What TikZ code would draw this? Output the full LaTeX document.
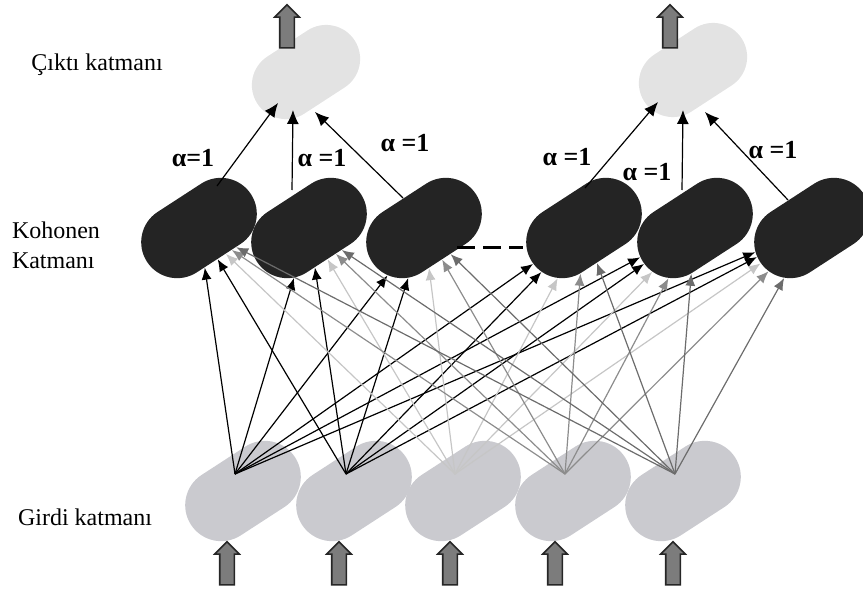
\documentclass[tikz,border=0pt]{standalone}
\usepackage{fontspec}
\setmainfont{Liberation Serif}
\usetikzlibrary{arrows.meta,shapes.misc,shapes.arrows,calc}
\definecolor{kncoal}  {HTML}{242424}
\definecolor{knfog}   {HTML}{CACACF}
\definecolor{knmist}  {HTML}{E3E3E3}
\definecolor{knpale}  {HTML}{C6C6C6}
\definecolor{knmid}   {HTML}{8C8C8C}
\definecolor{knsteel} {HTML}{6C6C6C}
\definecolor{knblock} {HTML}{7C7C7C}
\tikzset{
  knunit/.style={rounded rectangle, rotate=33, minimum width=62pt,
                 minimum height=36pt, inner sep=0pt},
  knkohonen/.style={knunit, fill=kncoal},
  kninput/.style={knunit, fill=knfog},
  knoutput/.style={knunit, fill=knmist, minimum width=58pt, minimum height=34pt},
  knedge/.style={-{Latex[length=6pt,width=5pt]}, line width=0.6pt},
  knoutedge/.style={-{Latex[length=7pt,width=6pt]}, line width=0.6pt},
  knblockarrow/.style={single arrow, rotate=90, draw=black!85, fill=knblock,
                 minimum height=21.5pt, minimum width=11.5pt,
                 single arrow head extend=2.5pt, inner xsep=0pt,
                 inner ysep=3.25pt, thick},
  knlabel/.style={font=\fontsize{12}{15}\selectfont},
  knalpha/.style={font=\fontsize{13}{15}\selectfont\bfseries},
}
\begin{document}
\begin{tikzpicture}[x=0.5pt,y=-0.5pt]
  \useasboundingbox (0,0) rectangle (863,594);
  % layers
  \node[knoutput] (O1) at (306,72) {};
  \node[knoutput] (O2) at (693,70) {};
  \node[knkohonen] (K1) at (199,228) {};
  \node[knkohonen] (K2) at (309,228) {};
  \node[knkohonen] (K3) at (424,228) {};
  \node[knkohonen] (K4) at (584,228) {};
  \node[knkohonen] (K5) at (695,228) {};
  \node[knkohonen] (K6) at (812,228) {};
  \node[kninput] (I1) at (243,491) {};
  \node[kninput] (I2) at (354,491) {};
  \node[kninput] (I3) at (463,491) {};
  \node[kninput] (I4) at (573,491) {};
  \node[kninput] (I5) at (683,491) {};
  % block arrows in and out
  \node[knblockarrow] (T1) at (287,30) {};
  \node[knblockarrow] (T2) at (670,30) {};
  \node[knblockarrow] (A1) at (227,567) {};
  \node[knblockarrow] (A2) at (339,567) {};
  \node[knblockarrow] (A3) at (450,567) {};
  \node[knblockarrow] (A4) at (555,567) {};
  \node[knblockarrow] (A5) at (673,567) {};
  % input -> kohonen, one shade per input
  \foreach \i/\c in {1/black,2/black,3/knpale,4/knmid,5/knsteel} {
    \coordinate (S\i) at ([shift={(-8,-17)}]I\i.center);
    \foreach \j in {1,...,6}
      \draw[knedge, draw=\c] (S\i) -- (K\j);
  }
  % kohonen -> output
  \draw[knoutedge] ([shift={(18,-42)}]K1.center) -- ([shift={(-28,31)}]O1.center);
  \draw[knoutedge] ([shift={(-17,-38)}]K2.center) -- ([shift={(-13,38)}]O1.center);
  \draw[knoutedge] ([shift={(-21,-30)}]K3.center) -- ([shift={(9,40)}]O1.center);
  \draw[knoutedge] ([shift={(1,-40)}]K4.center) -- ([shift={(-35,32)}]O2.center);
  \draw[knoutedge] ([shift={(-13,-38)}]K5.center) -- ([shift={(-10,40)}]O2.center);
  \draw[knoutedge] ([shift={(-24,-28)}]K6.center) -- ([shift={(12,42)}]O2.center);
  \draw[line width=1.5pt, dash pattern=on 9pt off 4pt]
    ([shift={(33,19)}]K3.center) -- ([shift={(-61,19)}]K4.center);
  \node[knalpha] (a1) at (193,158) {α=1};
  \node[knalpha] (a2) at (322,158) {α =1};
  \node[knalpha] (a3) at (405,143) {α =1};
  \node[knalpha] (a4) at (567,157) {α =1};
  \node[knalpha] (a5) at (647,172) {α =1};
  \node[knalpha] (a6) at (773,150) {α =1};
  \node[knlabel] (Lout) at (97,65) {Çıktı katmanı};
  \node[knlabel, align=left] (Lkoh) at (56,245) {Kohonen\\Katmanı};
  \node[knlabel] (Lin) at (85,517) {Girdi katmanı};
\end{tikzpicture}
\end{document}
